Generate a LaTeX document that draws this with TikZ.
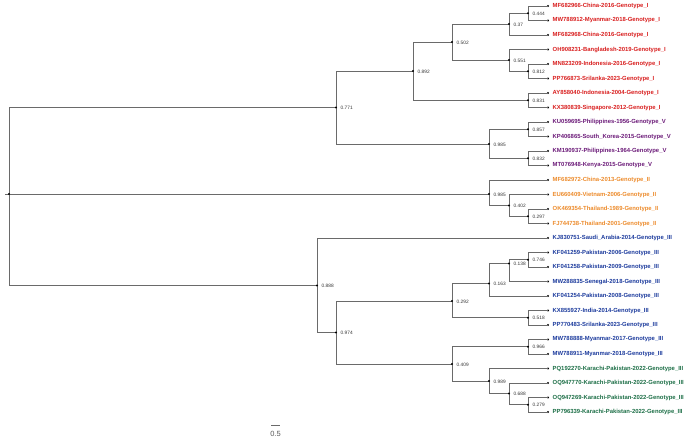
\documentclass[tikz,border=0pt]{standalone}
\usepackage{fontspec}
\usetikzlibrary{calc}
\setmainfont{Liberation Sans}
\definecolor{gI}{HTML}{D81E1E}
\definecolor{gV}{HTML}{6B1A78}
\definecolor{gII}{HTML}{EC8A2A}
\definecolor{gIII}{HTML}{1B3A9C}
\definecolor{gK}{HTML}{1C6E46}
\definecolor{edgecol}{HTML}{6A6A6A}
\tikzset{
  edge/.style={draw=edgecol, line width=1pt},
  dotstyle/.style={fill=black},
  leaflab/.style={anchor=west, inner sep=0pt, font=\fontsize{5.9}{6.5}\selectfont\bfseries},
  inlab/.style={anchor=west, inner sep=0pt, font=\fontsize{4.8}{5}\selectfont, text=black!80},
}
\newcommand{\myleaf}[4]{%
  \coordinate (#1) at (548,#2);
  \fill[dotstyle] (#1) circle (1.1);
  \node[leaflab, text=#3] (#1t) at ([xshift=4.5]#1) {#4};
}
\newcommand{\myinode}[4]{%
  \coordinate (#1) at (#2,#3);
  \node[inlab] (#1t) at ([xshift=4.5,yshift=-0.4]#1) {#4};
}
\newcommand{\mydot}[1]{\fill[dotstyle] (#1) circle (1.1);}
\begin{document}
\begin{tikzpicture}[x=1pt,y=-1pt]
\useasboundingbox (0,0) rectangle (685,439);
% leaves
\myleaf{l1}{6}{gI}{MF682966-China-2016-Genotype\_I}
\myleaf{l2}{20.5}{gI}{MW788912-Myanmar-2018-Genotype\_I}
\myleaf{l3}{35}{gI}{MF682968-China-2016-Genotype\_I}
\myleaf{l4}{49.5}{gI}{OH908231-Bangladesh-2019-Genotype\_I}
\myleaf{l5}{64}{gI}{MN823209-Indonesia-2016-Genotype\_I}
\myleaf{l6}{78.5}{gI}{PP766873-Srilanka-2023-Genotype\_I}
\myleaf{l7}{93}{gI}{AY858040-Indonesia-2004-Genotype\_I}
\myleaf{l8}{107.5}{gI}{KX380839-Singapore-2012-Genotype\_I}
\myleaf{l9}{122}{gV}{KU059695-Philippines-1956-Genotype\_V}
\myleaf{l10}{136.5}{gV}{KP406865-South\_Korea-2015-Genotype\_V}
\myleaf{l11}{151}{gV}{KM190937-Philippines-1964-Genotype\_V}
\myleaf{l12}{165.5}{gV}{MT076948-Kenya-2015-Genotype\_V}
\myleaf{l13}{180}{gII}{MF682972-China-2013-Genotype\_II}
\myleaf{l14}{194.5}{gII}{EU660409-Vietnam-2006-Genotype\_II}
\myleaf{l15}{209}{gII}{OK469354-Thailand-1989-Genotype\_II}
\myleaf{l16}{223.5}{gII}{FJ744738-Thailand-2001-Genotype\_II}
\myleaf{l17}{238}{gIII}{KJ830751-Saudi\_Arabia-2014-Genotype\_III}
\myleaf{l18}{252.5}{gIII}{KF041259-Pakistan-2006-Genotype\_III}
\myleaf{l19}{267}{gIII}{KF041258-Pakistan-2009-Genotype\_III}
\myleaf{l20}{281.5}{gIII}{MW288835-Senegal-2018-Genotype\_III}
\myleaf{l21}{296}{gIII}{KF041254-Pakistan-2008-Genotype\_III}
\myleaf{l22}{310.5}{gIII}{KX855927-India-2014-Genotype\_III}
\myleaf{l23}{325}{gIII}{PP770483-Srilanka-2023-Genotype\_III}
\myleaf{l24}{339.5}{gIII}{MW788888-Myanmar-2017-Genotype\_III}
\myleaf{l25}{354}{gIII}{MW788911-Myanmar-2018-Genotype\_III}
\myleaf{l26}{368.5}{gK}{PQ192270-Karachi-Pakistan-2022-Genotype\_III}
\myleaf{l27}{383}{gK}{OQ947770-Karachi-Pakistan-2022-Genotype\_III}
\myleaf{l28}{397.5}{gK}{OQ947269-Karachi-Pakistan-2022-Genotype\_III}
\myleaf{l29}{412}{gK}{PP796339-Karachi-Pakistan-2022-Genotype\_III}
% internal nodes
\coordinate (root) at (9,194);
\coordinate (rootstub) at (4.5,194);
\myinode{n771}{336}{107.5}{0.771}
\myinode{n892}{413}{71}{0.892}
\myinode{n502}{452}{42}{0.502}
\myinode{n37}{509}{24}{0.37}
\myinode{n444}{528}{13.25}{0.444}
\myinode{n551}{509}{60}{0.551}
\myinode{n812}{528}{71.25}{0.812}
\myinode{n831}{528}{100.25}{0.831}
\myinode{n985V}{489}{144}{0.985}
\myinode{n857}{528}{129.25}{0.857}
\myinode{n832}{528}{158.25}{0.832}
\myinode{n985II}{489}{194}{0.985}
\myinode{n402}{509}{205.5}{0.402}
\myinode{n297}{528}{216.25}{0.297}
\myinode{n888}{317}{285.5}{0.888}
\myinode{n974}{336}{332.5}{0.974}
\myinode{n292}{452}{301}{0.292}
\myinode{n163}{489}{283.5}{0.163}
\myinode{n138}{509}{263.5}{0.138}
\myinode{n746}{528}{259.75}{0.746}
\myinode{n518}{528}{317.75}{0.518}
\myinode{n409}{452}{364}{0.409}
\myinode{n966}{528}{346.75}{0.966}
\myinode{n989}{489}{381}{0.989}
\myinode{n688}{509}{393.5}{0.688}
\myinode{n279}{528}{404.75}{0.279}
% edges
\draw[edge] (root) -- (rootstub);
\foreach \p/\c in {root/n771, root/n985II, root/n888,
  n771/n892, n771/n985V,
  n892/n502, n892/n831,
  n502/n37, n502/n551,
  n37/n444, n37/l3, n444/l1, n444/l2,
  n551/l4, n551/n812, n812/l5, n812/l6,
  n831/l7, n831/l8,
  n985V/n857, n985V/n832, n857/l9, n857/l10, n832/l11, n832/l12,
  n985II/l13, n985II/n402, n402/l14, n402/n297, n297/l15, n297/l16,
  n888/l17, n888/n974,
  n974/n292, n974/n409,
  n292/n163, n292/n518,
  n163/n138, n163/l21,
  n138/n746, n138/l20, n746/l18, n746/l19,
  n518/l22, n518/l23,
  n409/n966, n409/n989, n966/l24, n966/l25,
  n989/l26, n989/n688, n688/l27, n688/n279, n279/l28, n279/l29}
  {\draw[edge] (\p) |- (\c);}
\foreach \n in {root,n771,n892,n502,n37,n444,n551,n812,n831,n985V,n857,n832,n985II,n402,n297,n888,n974,n292,n163,n138,n746,n518,n409,n966,n989,n688,n279}
  {\mydot{\n}}
% scale bar
\coordinate (sbL) at (271,425.5);
\coordinate (sbR) at (280,425.5);
\draw[draw=edgecol, line width=0.8pt] (sbL) -- (sbR);
\node[inner sep=0pt, font=\fontsize{7.5}{8}\selectfont, text=black!65] (sbt) at ([yshift=-8.5]$(sbL)!0.5!(sbR)$) {0.5};
\end{tikzpicture}
\end{document}
